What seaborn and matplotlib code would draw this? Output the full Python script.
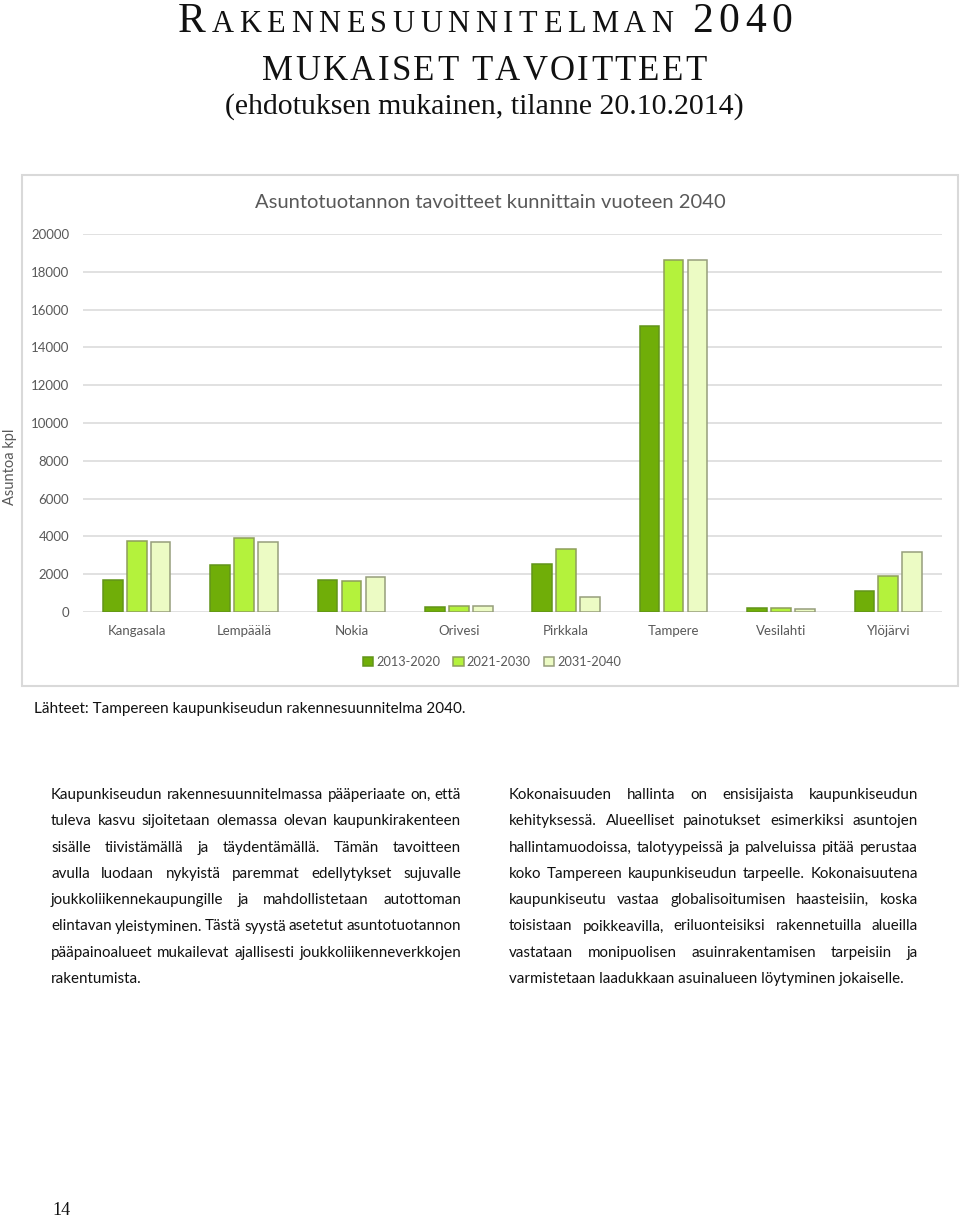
import matplotlib
matplotlib.use('Agg')

import pandas as pd
import matplotlib.pyplot as plt
from matplotlib.patches import Rectangle
import seaborn as sns

# ==============================
# DATA
# ==============================

kunnat = ['Kangasala', 'Lempäälä', 'Nokia', 'Orivesi', 'Pirkkala',
          'Tampere', 'Vesilahti', 'Ylöjärvi']
jaksot = ['2013-2020', '2021-2030', '2031-2040']
v_2013_2020 = [1700, 2500, 1680, 250, 2540, 15150, 190, 1130]
v_2021_2030 = [3780, 3940, 1660, 320, 3330, 18600, 190, 1900]
v_2031_2040 = [3700, 3720, 1840, 320, 810, 18600, 160, 3190]
varit = ['#70ae08', '#b4f23c', '#ecfbc4']
reunat = ['#62941a', '#8e9e5c', '#969e7c']
y_tikit = list(range(0, 20001, 2000))

otsikko_1 = [('R', 30), ('AKENNESUUNNITELMAN', 22), (' ', 22), ('2040', 30)]
otsikko_2 = [('MUKAISET', 25), (' ', 25), ('TAVOITTEET', 25)]
otsikko_3 = '(ehdotuksen mukainen, tilanne 20.10.2014)'
kaavion_otsikko = 'Asuntotuotannon tavoitteet kunnittain vuoteen 2040'
lahde = 'Lähteet: Tampereen kaupunkiseudun rakennesuunnitelma 2040.'

kappale_vasen = [
    'Kaupunkiseudun rakennesuunnitelmassa pääperiaate on, että',
    'tuleva kasvu sijoitetaan olemassa olevan kaupunkirakenteen',
    'sisälle tiivistämällä ja täydentämällä. Tämän tavoitteen',
    'avulla luodaan nykyistä paremmat edellytykset sujuvalle',
    'joukkoliikennekaupungille ja mahdollistetaan autottoman',
    'elintavan yleistyminen. Tästä syystä asetetut asuntotuotannon',
    'pääpainoalueet mukailevat ajallisesti joukkoliikenneverkkojen',
    'rakentumista.',
]
kappale_oikea = [
    'Kokonaisuuden hallinta on ensisijaista kaupunkiseudun',
    'kehityksessä. Alueelliset painotukset esimerkiksi asuntojen',
    'hallintamuodoissa, talotyypeissä ja palveluissa pitää perustaa',
    'koko Tampereen kaupunkiseudun tarpeelle. Kokonaisuutena',
    'kaupunkiseutu vastaa globalisoitumisen haasteisiin, koska',
    'toisistaan poikkeavilla, eriluonteisiksi rakennetuilla alueilla',
    'vastataan monipuolisen asuinrakentamisen tarpeisiin ja',
    'varmistetaan laadukkaan asuinalueen löytyminen jokaiselle.',
]

df = pd.DataFrame({
    'kunta': kunnat * 3,
    'jakso': [j for j in jaksot for _ in kunnat],
    'asuntoja': v_2013_2020 + v_2021_2030 + v_2031_2040,
})

# ==============================
# FIGURE
# ==============================

W, H = 960, 1218
HARMAA = '#595959'
MUSTA = '#111111'
SERIF = ['Liberation Serif', 'DejaVu Serif']


def fx(px):
    return px / W


def fy(py):
    return 1 - py / H


sns.set_style('white')
plt.rcParams['font.family'] = ['Lato', 'DejaVu Sans']

fig = plt.figure(figsize=(W / 100, H / 100), dpi=100)
renderer = fig.canvas.get_renderer()


def leveys(t):
    return t.get_window_extent(renderer).width


def levita(palat, x_vasen, x_oikea, y_base, **kw):
    # palat = [(teksti, koko)], välit venytetään niin että rivi täyttää leveyden
    tekstit = []
    for s, k in palat:
        if s == ' ':
            tekstit.append((None, k * 100 / 72 * 0.25))
        else:
            tekstit.append((fig.text(0, fy(y_base), s, fontsize=k,
                                     va='baseline', ha='left', **kw), None))
    lev = [leveys(t) if t is not None else w for t, w in tekstit]
    rako = (x_oikea - x_vasen - sum(lev)) / max(len(lev) - 1, 1)
    x = x_vasen
    for (t, _), w in zip(tekstit, lev):
        if t is not None:
            t.set_x(fx(x))
        x += w + rako


def kirjaimet(osat):
    palat = []
    for s, k in osat:
        if s == ' ':
            palat.append((' ', k))
        else:
            palat += [(c, k) for c in s]
    return palat


# ======================
# OTSIKOT
# ======================

levita(kirjaimet(otsikko_1), 178, 792, 32, family=SERIF, color=MUSTA)
levita(kirjaimet(otsikko_2), 262, 707, 80, family=SERIF, color=MUSTA)
fig.text(fx(484), fy(114), otsikko_3, fontsize=21.5, family=SERIF,
         ha='center', va='baseline', color=MUSTA)

# ======================
# KAAVIO
# ======================

fig.patches.append(Rectangle((fx(22), fy(686)), (958 - 22) / W, (686 - 175) / H,
                             transform=fig.transFigure, fill=False,
                             edgecolor='#d9d9d9', lw=1.5))

ax = fig.add_axes([fx(83), fy(612), (942 - 83) / W, (612 - 234) / H])

sns.barplot(
    data=df, x='kunta', y='asuntoja', hue='jakso',
    order=kunnat, hue_order=jaksot, palette=varit, saturation=1,
    width=0.67, gap=0.18, edgecolor='#87936c', linewidth=1.1,
    errorbar=None, ax=ax
)

# reunaväri sarjoittain
for sarja, reuna in zip(ax.containers, reunat):
    for palkki in sarja:
        palkki.set_edgecolor(reuna)

ax.set_ylim(0, 20000)
ax.set_yticks(y_tikit)
ax.set_xlabel('')
ax.set_ylabel('')
ax.yaxis.grid(True, color='#d9d9d9', lw=1.1)
ax.set_axisbelow(True)
for s in ax.spines.values():
    s.set_visible(False)
ax.tick_params(axis='both', length=0, labelcolor=HARMAA, labelsize=9.5)
ax.tick_params(axis='y', pad=10)
ax.tick_params(axis='x', pad=9)

kahvat, nimet = ax.get_legend_handles_labels()
ax.get_legend().remove()
for kahva, reuna in zip(kahvat, reunat):
    kahva.set_edgecolor(reuna)
fig.legend(kahvat, nimet, loc='center', bbox_to_anchor=(fx(492), fy(662)),
           ncol=3, frameon=False, fontsize=9.2, labelcolor=HARMAA,
           handlelength=0.8, handleheight=0.8, handletextpad=0.25,
           columnspacing=1.0)

fig.text(fx(490), fy(202), kaavion_otsikko, fontsize=14.5, color=HARMAA,
         ha='center', va='center')
fig.text(fx(10), fy(467), 'Asuntoa kpl', fontsize=10.5, color=HARMAA,
         rotation=90, ha='center', va='center')

fig.text(fx(34), fy(713), lahde, fontsize=11, color=MUSTA,
         ha='left', va='baseline')

# ======================
# TEKSTIPALSTAT
# ======================


def palsta(rivit, x_vasen, x_oikea, y0, riviväli=26.3, koko=10.9):
    for i, rivi in enumerate(rivit):
        y = y0 + i * riviväli
        if i == len(rivit) - 1:
            fig.text(fx(x_vasen), fy(y), rivi, fontsize=koko, color=MUSTA,
                     ha='left', va='baseline')
        else:
            levita([(s, koko) for s in rivi.split(' ')], x_vasen, x_oikea, y,
                   color=MUSTA)


palsta(kappale_vasen, 51, 461, 799)
palsta(kappale_oikea, 509, 918, 799)

fig.text(fx(52), fy(1215), '14', fontsize=13, family=SERIF, color=MUSTA,
         ha='left', va='baseline')

fig.savefig('out.png', dpi=100)
